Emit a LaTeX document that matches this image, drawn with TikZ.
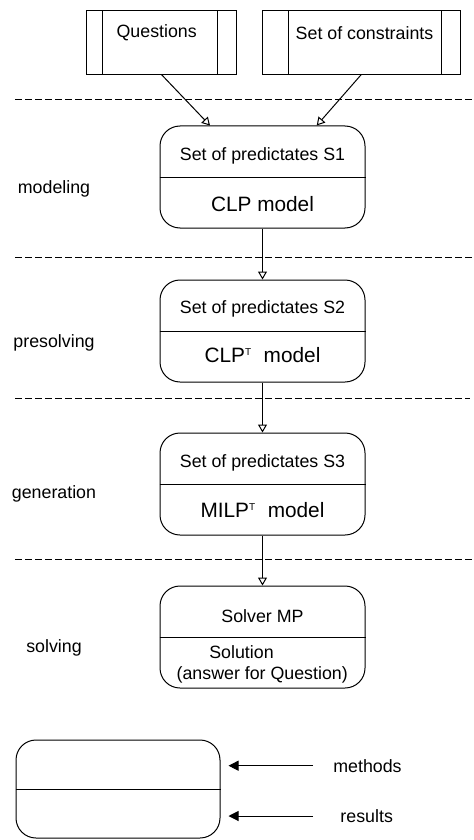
\documentclass[tikz,border=0pt]{standalone}
\usepackage{fontspec}
\setmainfont{Liberation Sans}
\usetikzlibrary{arrows.meta,calc}
\begin{document}
\begin{tikzpicture}[x=0.5pt,y=-0.5pt,
  box/.style={draw,line width=0.5pt,rounded corners=10pt,minimum width=102.5pt,minimum height=51pt,inner sep=0pt},
  src/.style={draw,line width=0.5pt,inner sep=0pt},
  txt/.style={inner sep=0pt,font=\fontsize{8.9pt}{10pt}\selectfont},
  big/.style={inner sep=0pt,font=\fontsize{10.4pt}{12pt}\selectfont},
  sep/.style={dash pattern=on 3.5pt off 1.5pt,line width=0.5pt},
  flow/.style={line width=0.5pt,-{Triangle[open,length=4pt,width=4.5pt]}},
  legarrow/.style={line width=0.5pt,-{Triangle[length=5pt,width=5pt]}}]
\useasboundingbox (0,0) rectangle (473,840);

% source boxes
\node[src,minimum width=75.1pt,minimum height=31.6pt] (q) at (161.6,42.6) {};
\draw[line width=0.5pt] (102.7,0 |- q.north) coordinate (q1) -- (102.7,0 |- q.south) coordinate (q2);
\draw[line width=0.5pt] (217.7,0 |- q.north) coordinate (q3) -- (217.7,0 |- q.south) coordinate (q4);
\node[txt] (qt) at (156.7,33) {Questions};

\node[src,minimum width=98.85pt,minimum height=31.6pt] (c) at (361.15,42.6) {};
\draw[line width=0.5pt] (288.3,0 |- c.north) coordinate (c1) -- (288.3,0 |- c.south) coordinate (c2);
\draw[line width=0.5pt] (441.7,0 |- c.north) coordinate (c3) -- (441.7,0 |- c.south) coordinate (c4);
\node[txt] (ct) at (364.5,33) {Set of constraints};

% separators
\coordinate (d1a) at (15,100);  \coordinate (d1b) at (473,100);
\coordinate (d2a) at (15,257);  \coordinate (d2b) at (473,257);
\coordinate (d3a) at (15,398.3);\coordinate (d3b) at (470,398.3);
\coordinate (d4a) at (15,559.3);\coordinate (d4b) at (473,559.3);
\draw[sep] (d1a) -- (d1b);
\draw[sep] (d2a) -- (d2b);
\draw[sep] (d3a) -- (d3b);
\draw[sep] (d4a) -- (d4b);

% process boxes
\node[box] (s1) at (262.5,177) {};
\draw[line width=0.5pt] (s1.west) -- (s1.east);
\node[txt] (s1t) at (262.5,156) {Set of predictates S1};
\node[big] (s1b) at (262.5,204) {CLP model};

\node[box] (s2) at (262.5,331) {};
\draw[line width=0.5pt] (s2.west) -- (s2.east);
\node[txt] (s2t) at (262.5,309.3) {Set of predictates S2};
\node[big] (s2b) at (262.5,355) {CLP\textsuperscript{\fontsize{5pt}{6pt}\selectfont T}\ \ model};

\node[box] (s3) at (262.5,484) {};
\draw[line width=0.5pt] (s3.west) -- (s3.east);
\node[txt] (s3t) at (262.5,462.5) {Set of predictates S3};
\node[big] (s3b) at (262.5,510) {MILP\textsuperscript{\fontsize{5pt}{6pt}\selectfont T}\ \ model};

\node[box] (s4) at (262.5,637) {};
\draw[line width=0.5pt] (s4.west) -- (s4.east);
\node[txt] (s4t) at (262.5,615.7) {Solver MP};
\node[txt] (s4b) at (241.5,652) {Solution};
\node[txt] (s4c) at (262.2,675) {(answer for Question)};

% phase labels
\node[txt] (l1) at (54,189) {modeling};
\node[txt] (l2) at (54,343) {presolving};
\node[txt] (l3) at (54,494.3) {generation};
\node[txt] (l4) at (54,648) {solving};

% flow connectors
\coordinate (in1) at (210,0 |- s1.north);
\coordinate (in2) at (316.7,0 |- s1.north);
\draw[flow] (q.south) -- (in1);
\draw[flow] (c.south) -- (in2);
\draw[flow] (s1.south) -- (s2.north);
\draw[flow] (s2.south) -- (s3.north);
\draw[flow] (s3.south) -- (s4.north);

% legend
\node[box,minimum width=102pt,minimum height=49pt] (lg) at (118,789) {};
\draw[line width=0.5pt] (lg.west) -- (lg.east);
\node[txt] (m) at (367.5,765.7) {methods};
\node[txt] (r) at (366.7,816) {results};
\coordinate (ma) at (313,765.7);
\coordinate (ra) at (313,816);
\draw[legarrow] (ma) -- ([xshift=4pt]lg.east |- ma);
\draw[legarrow] (ra) -- ([xshift=4pt]lg.east |- ra);
\end{tikzpicture}
\end{document}
